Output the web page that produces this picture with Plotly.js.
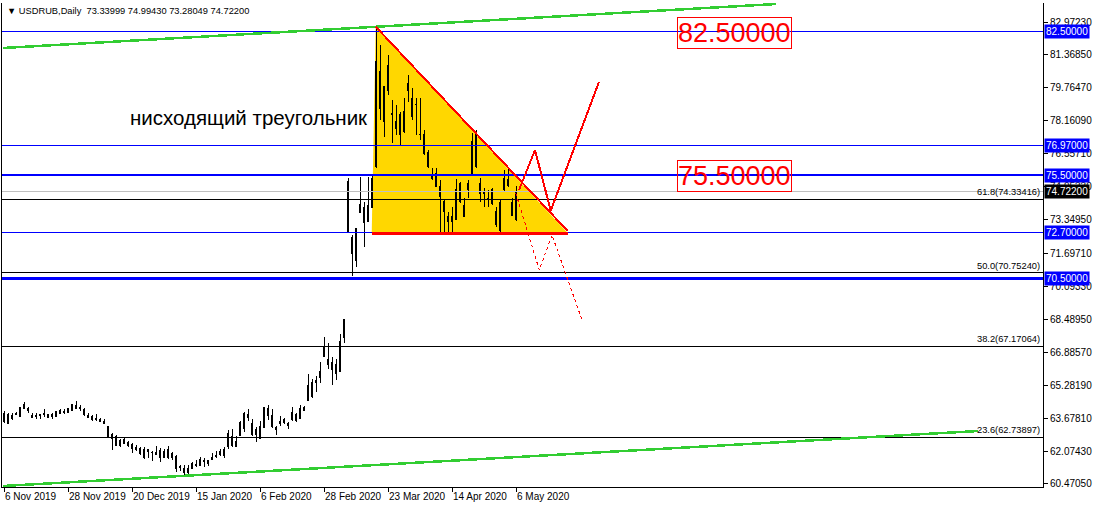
<!DOCTYPE html>
<html>
<head>
<meta charset="utf-8">
<script src="https://cdn.plot.ly/plotly-3.0.1.min.js"></script>
<style>
html,body{margin:0;padding:0;background:#fff;}
#chart{width:1094px;height:508px;}
#chart .scatterlayer path.js-line, #chart .boxlayer path, #chart .layer-below path{shape-rendering:crispEdges;}
</style>
</head>
<body>
<div id="chart"></div>
<script>
// ---------- DATA ----------
const open = [63.505,63.862,63.667,63.862,63.781,64.154,64.138,63.830,63.813,63.813,63.846,63.846,63.748,63.781,63.911,63.976,63.959,64.057,64.300,64.187,
64.122,63.813,63.748,63.667,63.602,63.505,63.261,62.693,62.807,62.612,62.433,62.514,62.401,62.255,62.206,61.768,62.044,61.995,61.914,62.109,
61.784,62.141,61.751,61.833,61.345,61.216,61.021,61.232,61.443,61.378,61.638,61.475,61.670,61.881,61.930,61.849,62.287,62.790,62.287,62.823,
63.196,63.878,63.424,63.131,62.693,63.213,63.830,63.813,63.115,63.407,63.489,63.326,63.602,63.862,63.667,64.203,64.544,64.723,65.421,65.664,
66.671,66.557,66.411,65.859,65.956,67.613,72.711,72.483,71.379,73.701,73.945,73.246,73.945,75.926,80.553,78.118,80.878,78.524,78.118,78.443,
77.631,79.953,79.255,78.962,77.501,77.469,76.608,75.358,75.601,74.952,74.221,73.247,73.491,73.361,75.114,73.491,74.822,75.520,77.469,75.114,
74.660,74.384,74.790,73.734,72.841,74.790,75.277,74.173,73.340];
const high = [64.024,63.911,63.943,63.976,64.235,64.463,64.235,63.943,63.943,63.862,64.122,63.894,63.927,64.024,64.106,64.138,64.171,64.365,64.511,64.300,
64.171,63.927,63.813,63.862,63.667,63.635,63.294,62.969,62.855,62.661,62.709,62.563,62.482,62.352,62.271,62.255,62.190,62.092,62.336,62.206,
62.174,62.336,62.044,61.865,61.410,61.378,61.394,61.540,61.638,61.784,61.735,61.638,61.962,62.060,62.157,62.287,63.083,63.148,62.807,63.537,
63.976,64.122,63.635,63.261,63.521,64.219,64.333,64.122,63.310,63.765,63.667,63.505,64.203,63.927,64.300,64.268,65.827,65.599,65.713,66.411,
67.629,67.353,66.655,66.557,67.759,68.506,75.357,72.597,72.954,75.438,74.221,75.438,75.471,82.745,81.852,79.823,81.365,79.173,78.930,78.605,
79.255,80.391,79.742,79.255,79.255,77.712,76.738,75.845,75.845,75.277,74.303,73.734,73.978,75.309,75.196,74.384,75.277,77.550,77.712,75.358,
74.871,74.790,74.871,73.978,74.303,75.764,75.926,74.384,74.994];
const low = [63.456,63.375,63.586,63.813,63.748,64.106,63.943,63.684,63.651,63.619,63.748,63.667,63.619,63.716,63.878,63.862,63.927,64.024,64.138,64.024,
63.797,63.667,63.554,63.537,63.472,63.391,62.774,62.125,62.336,62.271,62.401,62.287,61.995,62.092,61.865,61.670,61.751,61.605,61.865,61.557,
61.719,61.703,61.638,61.037,61.118,60.875,60.875,61.199,61.313,61.345,61.281,61.345,61.638,61.735,61.833,61.719,62.157,62.255,62.271,62.790,
63.002,63.521,62.823,62.531,62.661,63.196,63.586,63.213,62.855,63.310,63.375,63.148,63.554,63.489,63.635,64.008,64.495,64.674,64.934,65.404,
66.638,66.070,65.275,65.518,65.924,67.320,72.678,70.600,71.055,73.680,72.029,73.214,73.912,75.845,78.199,77.387,79.417,77.063,77.469,76.982,
77.550,79.092,78.199,77.469,77.225,76.494,75.845,75.277,74.952,72.679,72.679,72.760,72.679,73.328,74.140,73.458,74.384,75.488,75.845,74.221,
73.978,73.978,74.059,73.004,72.598,74.757,74.952,73.523,73.280];
const close = [63.911,63.424,63.830,63.927,64.203,64.349,64.041,63.716,63.765,63.862,63.927,63.700,63.878,63.992,64.041,64.024,64.138,64.333,64.171,64.138,
63.846,63.700,63.602,63.619,63.521,63.407,62.807,62.904,62.368,62.368,62.661,62.336,62.190,62.174,61.962,62.174,62.141,62.027,62.011,61.784,
62.044,61.751,61.979,61.232,61.264,61.021,61.248,61.492,61.362,61.686,61.573,61.621,61.784,61.816,62.044,62.174,62.937,62.336,62.563,63.489,
63.927,63.700,62.888,62.872,63.278,64.187,64.154,63.294,63.245,63.521,63.619,63.440,63.959,63.554,64.154,64.041,65.275,65.421,65.534,65.956,
67.158,66.297,66.070,66.281,67.418,68.489,75.195,71.704,72.905,74.091,73.214,74.058,75.357,81.041,78.767,79.823,79.660,78.475,77.793,77.469,
78.605,79.660,78.362,78.930,77.469,76.576,75.926,75.520,74.984,74.465,73.734,73.523,73.247,74.822,74.221,74.059,75.114,77.144,75.926,74.627,
74.595,74.335,74.140,73.085,74.173,75.358,75.001,73.572,74.722];

// date ticks (bar index -> label)
const dateTickIdx = [0,16,32,48,64,80,96,112,128];
const dateTickText = ['6 Nov 2019','28 Nov 2019','20 Dec 2019','15 Jan 2020','6 Feb 2020','28 Feb 2020','23 Mar 2020','14 Apr 2020','6 May 2020'];

// price scale ticks
const priceTicks = [82.9723,81.3685,79.7647,78.1609,76.5571,74.9533,73.3495,71.6971,70.0933,68.4895,66.8857,65.2819,63.6781,62.0743,60.4705];

// horizontal line levels
const hLevels = [82.5, 76.97, 75.5, 72.7, 70.5];
// fibonacci
const fibPct = ['61.8','50.0','38.2','23.6'];
const fibVal = [74.33416, 70.75240, 67.17064, 62.73897];

// trend lines (bar index, price)
const greenTopX = [-0.25, 193]; const greenTopY = [81.706, 83.849];
const greenBotX = [-0.25, 243.5]; const greenBotY = [60.371, 63.05];
// triangle
const triX = [92.93, 91.93, 140.93]; const triY = [82.744, 72.68, 72.70];
const hypX = [92.93, 140.93]; const hypY = [82.744, 72.79];
const baseX = [91.93, 140.93]; const baseY = [72.66, 72.66];
// projected paths
const zigX = [128.75, 132.75, 136.68, 148.75]; const zigY = [74.789, 76.738, 73.781, 80.05];
const dotX = [127.93, 133.83, 137.0, 144.5]; const dotY = [74.643, 70.893, 72.597, 68.46];

const bigLabels = ['82.50000','75.50000']; const bigLabelY = [82.43, 75.47]; const bigLabelX = 168.25;
const patternText = 'нисходящий треугольник';
const header = '▼ USDRUB,Daily  73.33999 74.99430 73.28049 74.72200';

// ---------- CHART ----------
const XMIN = -0.5, XMAX = 259.75, YMIN = 60.323, YMAX = 83.898;
const idx = open.map((_, i) => i);
const bid = close[close.length - 1];
const FONT = 'Liberation Sans, Arial, sans-serif';

const traces = [];
traces.push({type:'candlestick', x:idx, open:open, high:high, low:low, close:close,
  increasing:{line:{color:'#000', width:1}, fillcolor:'#fff'},
  decreasing:{line:{color:'#000', width:1}, fillcolor:'#000'},
  whiskerwidth:0, hoverinfo:'skip'});
function hline(v, color, w){ traces.push({type:'scatter', mode:'lines', x:[XMIN, XMAX], y:[v, v], line:{color:color, width:w}, hoverinfo:'skip'}); }
hline(bid, '#C0C0C0', 1);
fibVal.forEach(v => hline(v, '#000', 1));
const hWidth = [1, 1, 2, 1, 3];
hLevels.forEach((v, i) => hline(v, '#0000FF', hWidth[i]));
traces.push({type:'scatter', mode:'lines', x:greenTopX, y:greenTopY, line:{color:'#32CD32', width:2.5}, hoverinfo:'skip'});
traces.push({type:'scatter', mode:'lines', x:greenBotX, y:greenBotY, line:{color:'#32CD32', width:2.5}, hoverinfo:'skip'});
traces.push({type:'scatter', mode:'lines', x:baseX, y:baseY, line:{color:'#FF0000', width:3}, hoverinfo:'skip'});
traces.push({type:'scatter', mode:'lines', x:hypX, y:hypY, line:{color:'#FF0000', width:2}, hoverinfo:'skip'});
traces.push({type:'scatter', mode:'lines', x:zigX, y:zigY, line:{color:'#FF0000', width:2}, hoverinfo:'skip'});
traces.push({type:'scatter', mode:'lines', x:dotX, y:dotY, line:{color:'#FF0000', width:1, dash:'dot'}, hoverinfo:'skip'});

const triPath = 'M ' + triX.map((x, i) => x + ',' + triY[i]).join(' L ') + ' Z';
const shapes = [{type:'path', xref:'x', yref:'y', path:triPath, fillcolor:'#FFD700', line:{width:0}, layer:'below'}];

const annotations = [];
annotations.push({xref:'paper', yref:'paper', x:0, y:1, xanchor:'left', yanchor:'top', xshift:3, yshift:-1,
  text:header, showarrow:false, font:{family:FONT, size:9.3, color:'#000'}});
annotations.push({xref:'x', yref:'y', x:31, y:78.345, xanchor:'left', yanchor:'middle', text:patternText, showarrow:false,
  font:{family:FONT, size:20.5, color:'#000'}});
bigLabels.forEach((t, i) => annotations.push({xref:'x', yref:'y', x:bigLabelX, y:bigLabelY[i], xanchor:'left', yanchor:'middle',
  text:t, showarrow:false, font:{family:FONT, size:27, color:'#FF0000'}, bordercolor:'#FF0000', borderwidth:1, borderpad:0}));
fibVal.forEach((v, i) => annotations.push({xref:'paper', yref:'y', x:1, y:v, xanchor:'right', yanchor:'bottom', xshift:-1,
  text:fibPct[i] + '(' + v.toFixed(5) + ')', showarrow:false, font:{family:FONT, size:9.3, color:'#000'}}));
hLevels.forEach(v => annotations.push({xref:'paper', yref:'y', x:1, y:v, xanchor:'left', yanchor:'middle', xshift:1,
  text:v.toFixed(5), showarrow:false, bgcolor:'#0000FF', borderpad:1, font:{family:FONT, size:10, color:'#fff'}}));
annotations.push({xref:'paper', yref:'y', x:1, y:bid, xanchor:'left', yanchor:'middle', xshift:1,
  text:bid.toFixed(5), showarrow:false, bgcolor:'#000', borderpad:1, font:{family:FONT, size:10, color:'#fff'}});

const layout = {
  width:1094, height:508, paper_bgcolor:'#fff', plot_bgcolor:'#fff',
  margin:{l:2, r:51, t:3, b:21}, showlegend:false, hovermode:false,
  font:{family:FONT, size:10, color:'#000'},
  xaxis:{range:[XMIN, XMAX], showgrid:false, zeroline:false, showline:true, linecolor:'#000', linewidth:1, mirror:false,
    ticks:'outside', ticklen:4, tickcolor:'#000', tickvals:dateTickIdx, ticktext:dateTickText, ticklabelposition:'outside right',
    tickangle:0, tickfont:{family:FONT, size:10, color:'#000'}, rangeslider:{visible:false}, fixedrange:true},
  yaxis:{range:[YMIN, YMAX], side:'right', showgrid:false, zeroline:false, showline:true, linecolor:'#000', linewidth:1, mirror:true,
    ticks:'outside', ticklen:4, tickcolor:'#000', tickvals:priceTicks, ticktext:priceTicks.map(v => v.toFixed(5)),
    tickfont:{family:FONT, size:10, color:'#000'}, fixedrange:true},
  shapes:shapes,
  annotations:annotations
};
Plotly.newPlot('chart', traces, layout, {staticPlot:true, displayModeBar:false});
</script>
</body>
</html>
